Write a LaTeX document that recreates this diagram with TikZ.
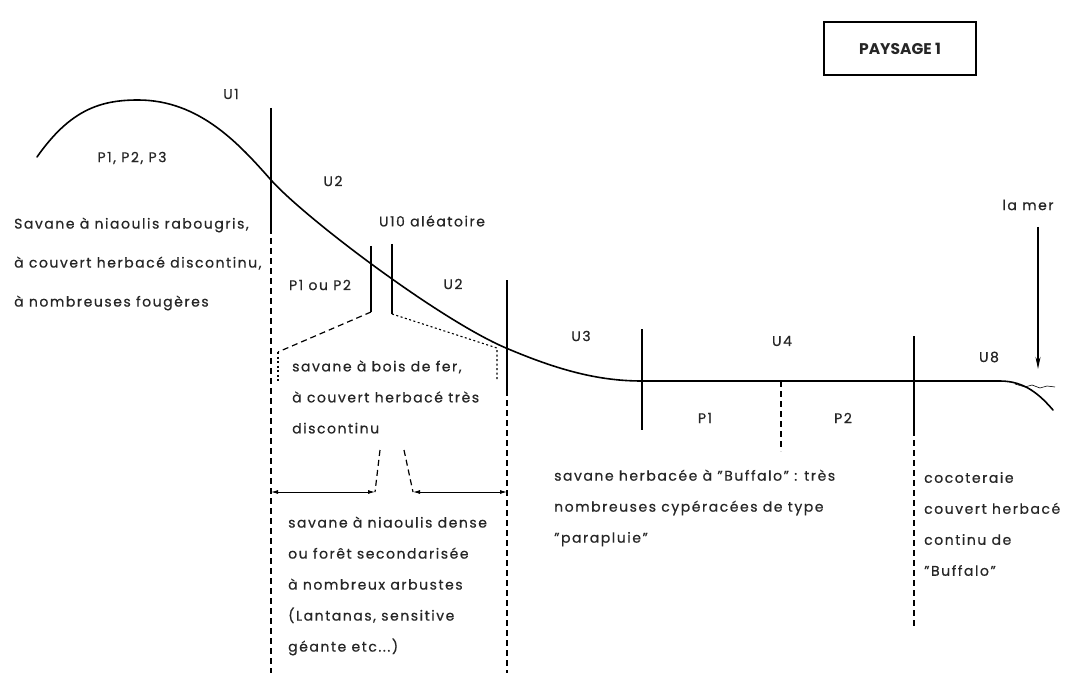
\documentclass[tikz,border=0pt]{standalone}
\usepackage{fontspec}
\setmainfont{Poppins}[LetterSpace=11,FakeBold=0.6]
\newfontfamily\titlefont{Poppins}
\usetikzlibrary{arrows.meta}

\begin{document}
\begin{tikzpicture}[x=1pt,y=-1pt,
  every node/.style={font=\fontsize{14}{16}\selectfont,text=black!85,inner sep=0pt},
  txt/.style={align=left,anchor=west,font=\fontsize{14}{31}\selectfont},
  profile/.style={line width=1.6pt,line cap=round},
  limit/.style={line width=1.2pt},
  limitdash/.style={line width=1.2pt,dash pattern=on 6pt off 4pt},
  limitdot/.style={line width=1.1pt,dash pattern=on 2pt off 2.5pt},
  span/.style={line width=0.9pt,{Latex[length=7pt,width=4pt]}-{Latex[length=7pt,width=4pt]}}]
\useasboundingbox (0,0) rectangle (1079,695);

\node [draw,line width=1.6pt,minimum width=152pt,minimum height=53pt,
  font=\titlefont\fontsize{15.5}{17}\selectfont\bfseries] (titre) at (900,48.5) {PAYSAGE 1};

\draw [profile] (37,157) .. controls (70,110) and (100,100) .. (138,100)
  .. controls (200,100) and (240,145) .. (271,180)
  .. controls (305,218) and (440,320) .. (506,348)
  .. controls (560,371) and (600,381) .. (642,381)
  -- (1000,381) .. controls (1025,381) and (1040,395) .. (1053,410);
\draw [line width=0.6pt] (1015,384) -- (1025,387) -- (1032,385) -- (1040,388)
  -- (1047,386) -- (1055,387);

\coordinate (u1top) at (271,108);
\coordinate (u1mid) at (271,228);
\coordinate (u1bot) at (271,673);
\coordinate (atop) at (371,246);
\coordinate (abot) at (371,312);
\coordinate (btop) at (392,244);
\coordinate (bbot) at (392,314);
\coordinate (lcorner) at (278,352);
\coordinate (lend) at (278,383);
\coordinate (rcorner) at (497,348);
\coordinate (rend) at (497,381);
\coordinate (u3top) at (507,280);
\coordinate (u3mid) at (507,390);
\coordinate (u3bot) at (507,673);
\coordinate (u4top) at (642,329);
\coordinate (u4bot) at (642,430);
\coordinate (ptop) at (781,381);
\coordinate (pbot) at (781,451);
\coordinate (u8top) at (914,336);
\coordinate (u8mid) at (914,430);
\coordinate (u8bot) at (914,628);
\coordinate (gapl) at (375,492);
\coordinate (gapltop) at (380,450);
\coordinate (gapr) at (413,492);
\coordinate (gaprtop) at (404,450);
\coordinate (sea) at (1038,369);

\draw [limit] (u1top) -- (u1mid);
\draw [limitdash] (u1mid) -- (u1bot);
\draw [limit] (atop) -- (abot);
\draw [limit] (btop) -- (bbot);
\draw [limitdash] (abot) -- (lcorner);
\draw [limitdot] (lcorner) -- (lend);
\draw [limitdot] (bbot) -- (rcorner) -- (rend);
\draw [limit] (u3top) -- (u3mid);
\draw [limitdash] (u3mid) -- (u3bot);
\draw [limit] (u4top) -- (u4bot);
\draw [limitdash] (ptop) -- (pbot);
\draw [limit] (u8top) -- (u8mid);
\draw [limitdash] (u8mid) -- (u8bot);
\draw [limitdash] (gapltop) -- (gapl);
\draw [limitdash] (gaprtop) -- (gapr);
\draw [span] (271,492) -- (gapl);
\draw [span] (gapr) -- (507,492);

\node (u1) at (231,94) {U1};
\node (p123) at (132,158) {P1, P2, P3};
\node (u2a) at (333,181) {U2};
\node (u10) at (432,221) {U10 aléatoire};
\node (p1p2) at (320,285) {P1 ou P2};
\node (u2b) at (453,284) {U2};
\node (u3) at (581,336) {U3};
\node (u4) at (782,341) {U4};
\node (p1) at (705,418) {P1};
\node (p2) at (843,418) {P2};
\node (u8) at (989,357) {U8};
\node (mer) at (1028,205) {la mer};
\draw [line width=1.2pt,-{Stealth[length=12pt,width=5pt]}] (1038,227) -- (sea);

\node [txt,font=\fontsize{14}{39}\selectfont] (savane) at (14,264)
  {Savane à niaoulis rabougris,\\à couvert herbacé discontinu,\\à nombreuses fougères};
\node [txt] (boisfer) at (292,397)
  {savane à bois de fer,\\à couvert herbacé très\\discontinu};
\node [txt] (dense) at (288,586)
  {savane à niaoulis dense\\ou forêt secondarisée\\à nombreux arbustes\\(Lantanas, sensitive\\géante etc...)};
\node [txt] (buffalo) at (554,508)
  {savane herbacée à ''Buffalo'' : très\\nombreuses cypéracées de type\\''parapluie''};
\node [txt] (coco) at (924,524)
  {cocoteraie\\couvert herbacé\\continu de\\''Buffalo''};
\end{tikzpicture}
\end{document}
